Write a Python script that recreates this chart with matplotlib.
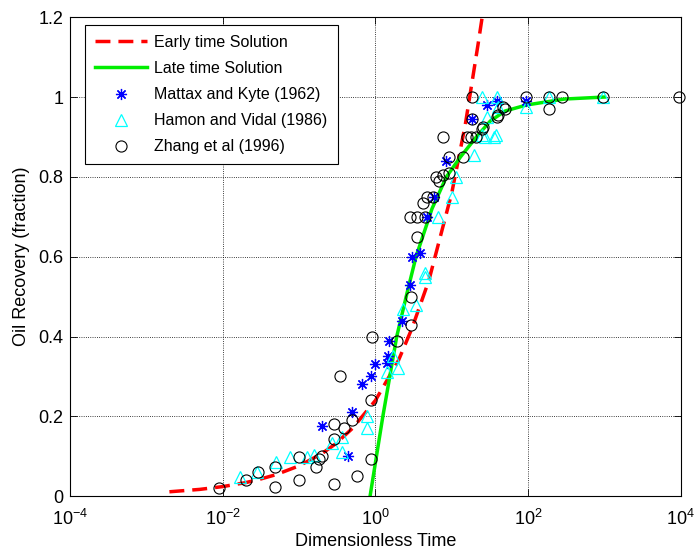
import numpy as np
import matplotlib
matplotlib.use("Agg")
import matplotlib.pyplot as plt
from matplotlib.ticker import FixedLocator, LogFormatterSciNotation, NullLocator

plt.rcParams['font.family'] = ['Liberation Sans', 'DejaVu Sans']
plt.rcParams['mathtext.default'] = 'regular'

# Early / late time solutions
early_t = [0.002, 0.005, 0.01, 0.02, 0.03, 0.05, 0.1, 0.2, 0.3, 0.5, 1, 2, 3, 5, 10, 15, 22, 25]
early_r = [0.011, 0.017, 0.024, 0.034, 0.042, 0.054, 0.076, 0.107, 0.131, 0.17, 0.24, 0.34, 0.42, 0.54, 0.76, 0.93, 1.13, 1.2]

late_t = [0.85, 1.25, 1.9, 2.6, 3.4, 5.5, 8.5, 13, 21, 32, 50, 95, 300, 1000]
late_r = [0.0, 0.2, 0.4, 0.51, 0.6, 0.72, 0.8, 0.85, 0.9, 0.94, 0.965, 0.98, 0.995, 1.0]

# Mattax and Kyte (1962)
mk_t = [0.20, 0.44, 0.49, 0.66, 0.87, 1.0, 1.42, 1.45, 1.5, 2.2, 2.8, 3.0, 3.8, 4.7, 5.8, 8.5, 18.6, 28.6, 39, 95]
mk_r = [0.175, 0.10, 0.21, 0.28, 0.30, 0.33, 0.333, 0.35, 0.39, 0.44, 0.53, 0.60, 0.61, 0.70, 0.75, 0.84, 0.945, 0.98, 0.99, 0.99]

# Hamon and Vidal (1986)
hv_t = [0.017, 0.028, 0.050, 0.076, 0.126, 0.155, 0.27, 0.36, 0.37, 0.78, 0.78, 1.4, 1.95, 1.7,
        2.3, 3.4, 4.5, 4.5, 6.6, 10, 11.2, 19.6, 27, 36, 24.5, 39, 25, 38, 28.6, 40, 95, 190, 950]
hv_r = [0.047, 0.06, 0.085, 0.098, 0.098, 0.103, 0.133, 0.148, 0.11, 0.20, 0.17, 0.31, 0.32, 0.35,
        0.47, 0.48, 0.56, 0.55, 0.70, 0.75, 0.80, 0.855, 0.90, 0.90, 1.0, 1.0, 0.905, 0.905, 0.95, 0.975, 0.975, 1.0, 1.0]

# Zhang et al (1996)
zh_t = [0.009, 0.02, 0.029, 0.048, 0.048, 0.1, 0.1, 0.166, 0.18, 0.20, 0.29, 0.29, 0.29, 0.39, 0.49,
        0.34, 0.58, 0.87, 0.87, 0.9, 1.94, 2.9, 2.9, 3.5, 2.8, 3.5, 4.4, 4.2, 4.7, 5.6, 6.3, 7.6, 6.9,
        9.3, 9.3, 7.6, 14, 18, 21, 26, 40, 47, 18.6, 18.6, 16, 25, 39, 50, 95, 190, 190, 280, 950, 9400]
zh_r = [0.02, 0.04, 0.06, 0.073, 0.022, 0.098, 0.04, 0.073, 0.093, 0.10, 0.03, 0.143, 0.18, 0.17, 0.19,
        0.30, 0.05, 0.24, 0.093, 0.40, 0.39, 0.43, 0.50, 0.65, 0.70, 0.70, 0.70, 0.735, 0.75, 0.75, 0.80, 0.805, 0.79,
        0.81, 0.85, 0.90, 0.85, 0.90, 0.90, 0.925, 0.955, 0.975, 1.0, 0.945, 0.90, 0.92, 0.95, 0.97, 1.0, 1.0, 0.97, 1.0, 1.0, 1.0]

fig = plt.figure(figsize=(6.94, 5.55), dpi=100)
ax = fig.add_axes([0.101, 0.106, 0.880, 0.863])

ax.plot(early_t, early_r, color='red', lw=2.5, ls=(0, (4.3, 2.3)), label='Early time Solution')
ax.plot(late_t, late_r, color='#00ee00', lw=2.5, label='Late time Solution')
ax.plot(mk_t, mk_r, ls='none', marker=(8, 2, 0), ms=8, mew=0.9, color='blue',
        label='Mattax and Kyte (1962)')
ax.plot(hv_t, hv_r, ls='none', marker='^', ms=9, mfc='none', mec='cyan', mew=0.9,
        label='Hamon and Vidal (1986)')
ax.plot(zh_t, zh_r, ls='none', marker='o', ms=8, mfc='none', mec='black', mew=0.8,
        label='Zhang et al (1996)', clip_on=False)

ax.set_xscale('log')
ax.set_xlim(1e-4, 1e4)
ax.set_ylim(0, 1.2)
ax.xaxis.set_major_locator(FixedLocator([1e-4, 1e-2, 1, 1e2, 1e4]))
ax.xaxis.set_major_formatter(LogFormatterSciNotation())
ax.xaxis.set_minor_locator(NullLocator())
ax.set_yticks([0, 0.2, 0.4, 0.6, 0.8, 1.0, 1.2])
ax.set_yticklabels(['0', '0.2', '0.4', '0.6', '0.8', '1', '1.2'])
ax.tick_params(direction='in', top=True, right=True, labelsize=13, length=5, width=0.6)
ax.tick_params(axis='x', pad=9)
ax.tick_params(axis='y', pad=5)
ax.grid(True, ls=':', color='k', lw=0.6)
for s in ax.spines.values():
    s.set_linewidth(0.8)

ax.set_xlabel('Dimensionless Time', fontsize=13, labelpad=3)
ax.set_ylabel('Oil Recovery (fraction)', fontsize=13, labelpad=6)

leg = ax.legend(loc='upper left', bbox_to_anchor=(0.024, 0.984), borderaxespad=0,
                fontsize=11.5, handlelength=3.3, handletextpad=0.44, labelspacing=0.7,
                fancybox=False, framealpha=1, edgecolor='black', borderpad=0.62)
leg.get_frame().set_linewidth(0.8)

fig.savefig('out.png', dpi=100)
